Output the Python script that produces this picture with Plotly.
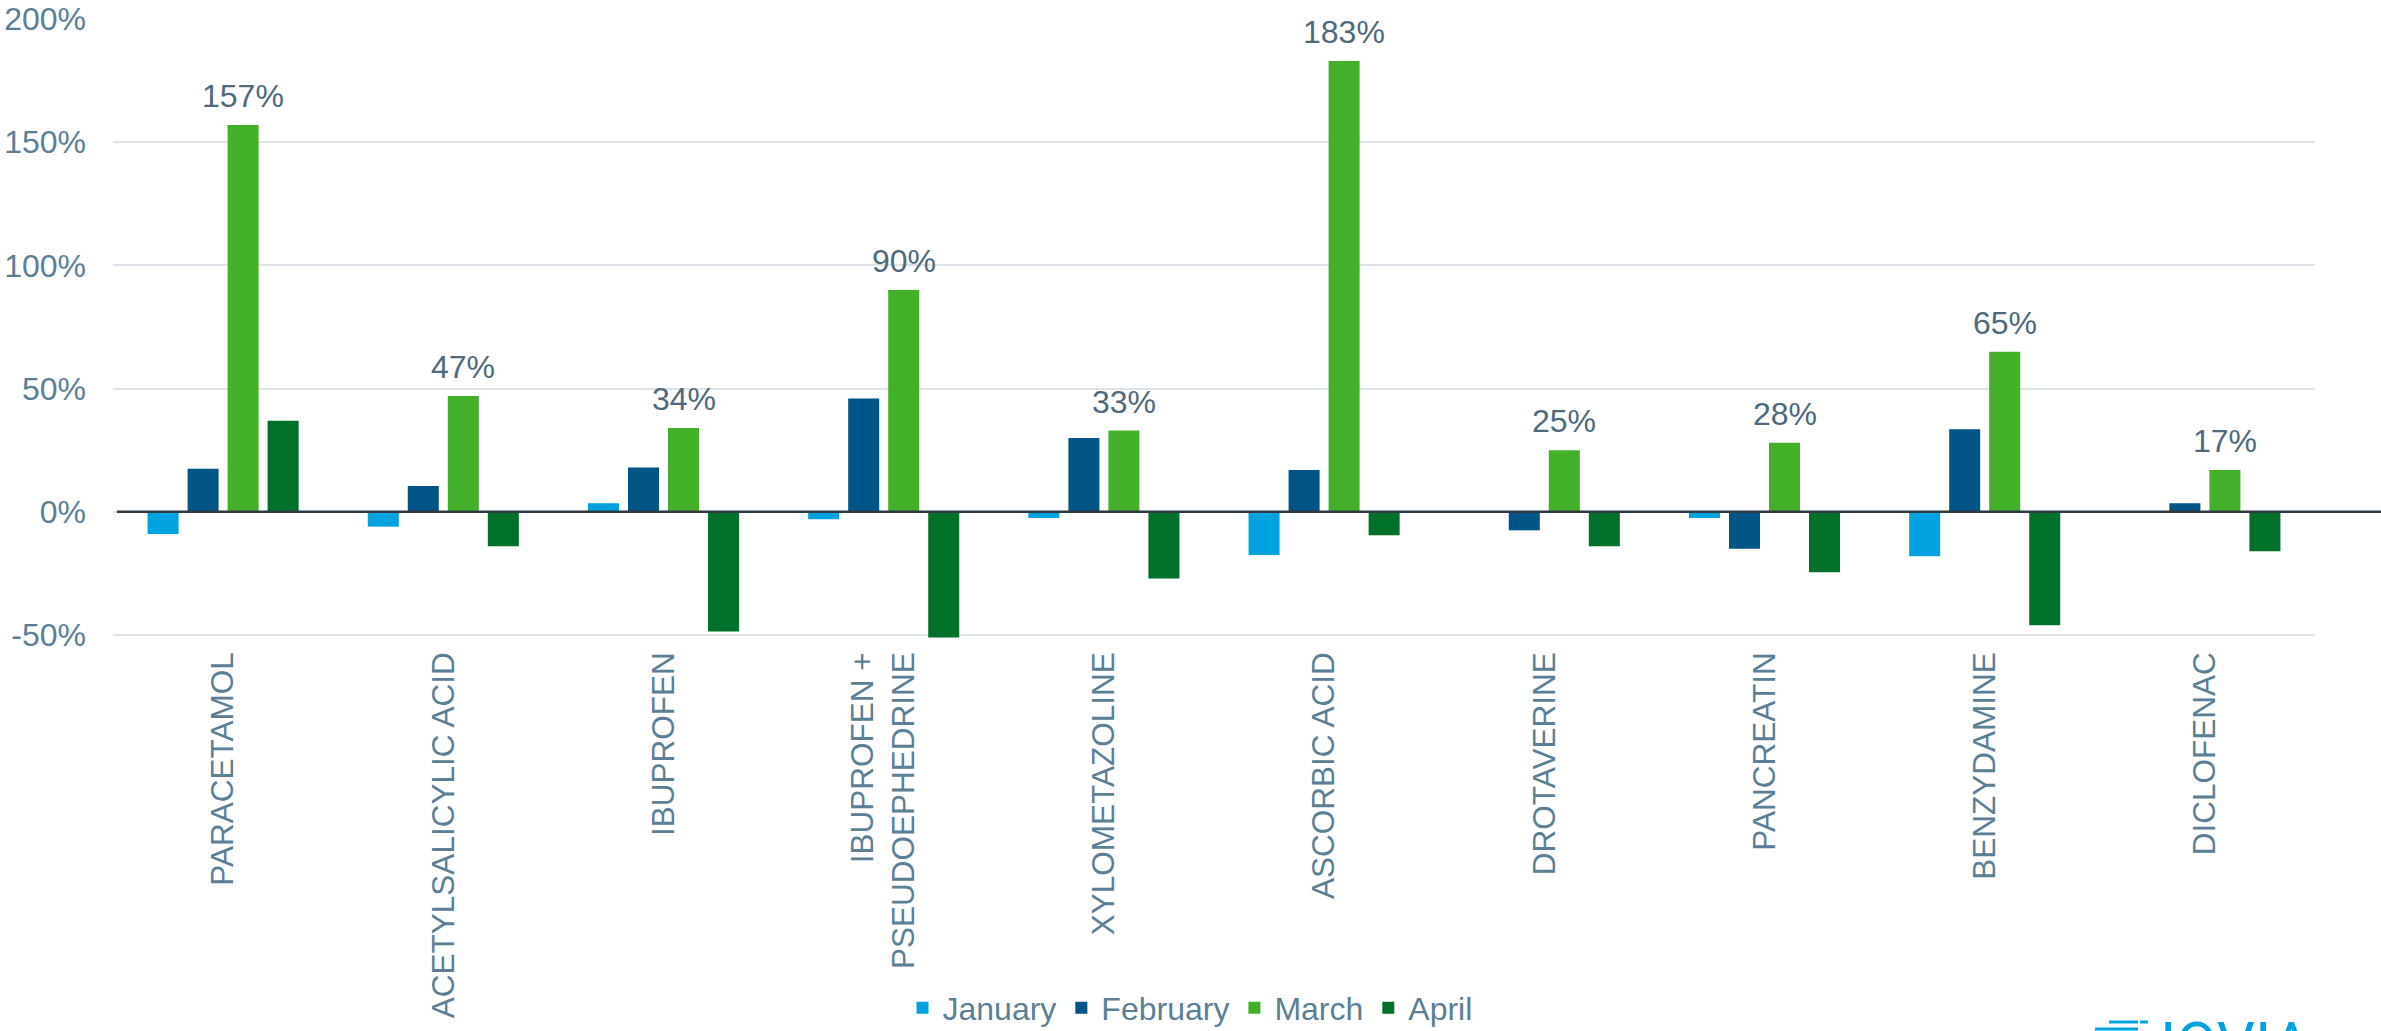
import plotly.graph_objects as go

# ---------------- data ----------------
categories = [
    "PARACETAMOL", "ACETYLSALICYLIC ACID", "IBUPROFEN",
    "IBUPROFEN +<br>PSEUDOEPHEDRINE", "XYLOMETAZOLINE", "ASCORBIC ACID",
    "DROTAVERINE", "PANCREATIN", "BENZYDAMINE", "DICLOFENAC",
]
january = [-9, -6, 3.5, -3, -2.5, -17.5, 0, -2.5, -18, 0]
february = [17.5, 10.5, 18, 46, 30, 17, -7.5, -15, 33.5, 3.5]
march = [157, 47, 34, 90, 33, 183, 25, 28, 65, 17]
april = [37, -14, -48.5, -51, -27, -9.5, -14, -24.5, -46, -16]
series_names = ["January", "February", "March", "April"]
y_ticks = [-50, 0, 50, 100, 150, 200]
y_tick_text = ["-50%", "0%", "50%", "100%", "150%", "200%"]

# ---------------- style ----------------
W, H = 2381, 1031
L, R, T, B = 113, 66, 19, 391
colors = ["#00A3E0", "#005587", "#43B02A", "#00712B"]
text_col = "#5B7F95"
label_col = "#4E6A7B"
FONT = "Liberation Sans, Arial, sans-serif"
FS = 32
BARGAP, GROUPGAP = 0.273, 0.225

fig = go.Figure()
for name, vals, col in zip(series_names, [january, february, march, april], colors):
    fig.add_trace(go.Bar(
        x=categories, y=vals, name=name,
        marker=dict(color=col, line=dict(width=0)),
        hoverinfo="x+y",
    ))

plot_w = W - L - R
plot_h = H - T - B
slot = plot_w / len(categories) * (1 - BARGAP) / len(series_names)
march_shift = (2 - (len(series_names) - 1) / 2) * slot

annotations = []
for c, v in zip(categories, march):
    annotations.append(dict(
        x=c, y=v, xref="x", yref="y", text=f"{v:.0f}%", showarrow=False,
        xshift=march_shift, yshift=9, yanchor="bottom",
        font=dict(family=FONT, size=FS, color=label_col),
    ))

# IQVIA logo (cut off at the bottom edge of the page, as in the reference)
def py(px):
    return (H - B - px) / plot_h

def pxx(px):
    return (px - L) / plot_w

annotations.append(dict(
    x=pxx(2158), y=py(1006), xref="paper", yref="paper", xanchor="left", yanchor="top",
    text="IQVIA", showarrow=False,
    font=dict(family="Roboto, Lato, sans-serif", size=60, color="#00A3E0"),
))

shapes = [
    # zero line extending to page edge
    dict(type="line", xref="paper", yref="y", x0=pxx(117), x1=pxx(W + 5), y0=0, y1=0,
         line=dict(color="#2E3B44", width=2.5), layer="above"),
    dict(type="line", xref="paper", yref="paper", x0=pxx(2109), x1=pxx(2138),
         y0=py(1022), y1=py(1022), line=dict(color="#00A3E0", width=3)),
    dict(type="line", xref="paper", yref="paper", x0=pxx(2140), x1=pxx(2148),
         y0=py(1022), y1=py(1022), line=dict(color="#00A3E0", width=3)),
    dict(type="line", xref="paper", yref="paper", x0=pxx(2095), x1=pxx(2138),
         y0=py(1029), y1=py(1029), line=dict(color="#00A3E0", width=3)),
]

fig.update_layout(
    width=W, height=H,
    margin=dict(l=L, r=R, t=T, b=B, pad=0, autoexpand=False),
    paper_bgcolor="white", plot_bgcolor="white",
    barmode="group", bargap=BARGAP, bargroupgap=GROUPGAP,
    font=dict(family=FONT, size=FS, color=text_col),
    showlegend=True,
    legend=dict(
        orientation="h", xref="container", yref="container",
        x=1190 / W, xanchor="center", y=1 - 1008 / H, yanchor="middle",
        font=dict(family=FONT, size=FS, color=text_col),
        itemclick=False, itemdoubleclick=False, bgcolor="rgba(0,0,0,0)",
    ),
    xaxis=dict(
        tickangle=-90, showgrid=False, zeroline=False, showline=False, ticks="",
        tickfont=dict(family=FONT, size=31.5, color=text_col),
        ticklabelstandoff=5, automargin=False,
    ),
    yaxis=dict(
        range=[-52, 200], tickvals=y_ticks, ticktext=y_tick_text,
        showgrid=True, gridcolor="#DDE3E8", gridwidth=2,
        zeroline=False, showline=False, ticks="",
        tickfont=dict(family=FONT, size=FS, color=text_col),
        ticklabelstandoff=26, automargin=False,
    ),
    annotations=annotations,
    shapes=shapes,
)

fig.write_html("out.html")
